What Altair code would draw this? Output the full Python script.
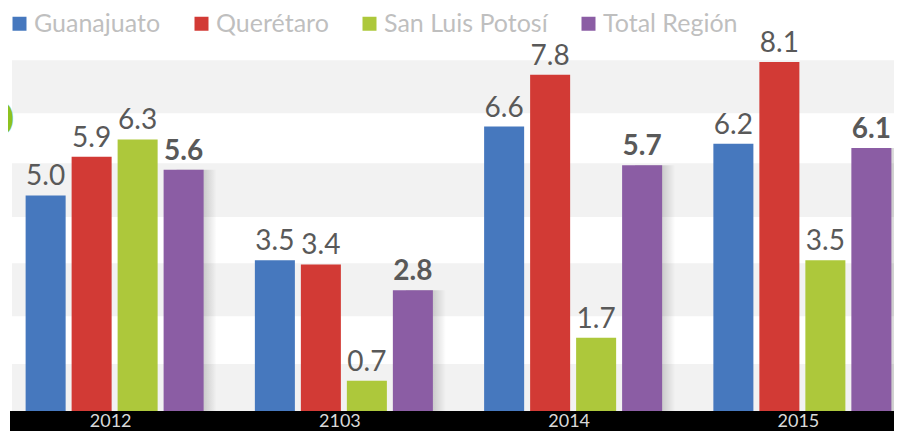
import altair as alt
import pandas as pd

# ---- data ----
years = ["2012", "2103", "2014", "2015"]
series = ["Guanajuato", "Querétaro", "San Luis Potosí", "Total Región"]
guanajuato = [5.0, 3.5, 6.6, 6.2]
queretaro = [5.9, 3.4, 7.8, 8.1]
san_luis = [6.3, 0.7, 1.7, 3.5]
total_region = [5.6, 2.8, 5.7, 6.1]
band_low = [0.0, 2.20, 4.50, 6.91]
band_high = [1.09, 3.43, 5.75, 8.14]
colors = ["#4678BE", "#D23A35", "#ADC83B", "#8B5DA4"]

rows = []
for s, vals in zip(series, [guanajuato, queretaro, san_luis, total_region]):
    for yr, v in zip(years, vals):
        rows.append({"year": yr, "series": s, "value": v, "label": f"{v:.1f}"})
df = pd.DataFrame(rows)
bands = pd.DataFrame({"lo": band_low, "hi": band_high})
one = pd.DataFrame({"k": [0]})
year_df = pd.DataFrame({"year": years})

W, H = 884, 403
BOTTOM = 20
FONT = "Lato"
STEP = 229.25

yscale = alt.Scale(domain=[0, 9.35], nice=False, zero=True)
xscale = alt.Scale(domain=years, range=[-10, 907], paddingInner=0, paddingOuter=0)
xoff = alt.Scale(type="band", domain=series, paddingInner=0.13,
                 paddingOuter=0.557, range=[0, STEP])
xoff_shadow = alt.Scale(type="band", domain=series, paddingInner=0.13,
                        paddingOuter=0.557, range=[13, STEP + 13])

X = alt.X("year:N", scale=xscale, axis=None, sort=years)
XO = alt.XOffset("series:N", scale=xoff, sort=series)
Y = alt.Y("value:Q", scale=yscale, axis=None)

bg = alt.Chart(bands).mark_rect(color="#F2F2F2").encode(
    x=alt.value(2), x2=alt.value(W),
    y=alt.Y("lo:Q", scale=yscale, axis=None), y2="hi:Q",
)

black = alt.Chart(one).mark_rect(color="#000000").encode(
    x=alt.value(0), x2=alt.value(W), y=alt.value(H), y2=alt.value(H + BOTTOM)
)

shadow_grad = alt.LinearGradient(
    gradient="linear",
    stops=[
        alt.GradientStop(color="rgba(0,0,0,0.20)", offset=0),
        alt.GradientStop(color="rgba(0,0,0,0.16)", offset=0.68),
        alt.GradientStop(color="rgba(0,0,0,0)", offset=1),
    ],
    x1=0, x2=1, y1=0, y2=0,
)
shadow = alt.Chart(df).transform_filter(
    alt.datum.series == "Total Región"
).mark_bar(color=shadow_grad).encode(
    x=X, xOffset=alt.XOffset("series:N", scale=xoff_shadow, sort=series), y=Y
)

bars = alt.Chart(df).mark_bar().encode(
    x=X, xOffset=XO, y=Y,
    color=alt.Color(
        "series:N",
        scale=alt.Scale(domain=series, range=colors),
        legend=alt.Legend(
            orient="none", legendX=-3, legendY=3, direction="horizontal",
            title=None, symbolType="square", symbolSize=196,
            symbolStrokeWidth=0, labelFontSize=25, labelFont=FONT,
            labelColor="#BFBFBF", columnPadding=28, labelOffset=2,
            labelLimit=400,
        ),
    ),
)

labels = alt.Chart(df).transform_filter(
    alt.datum.series != "Total Región"
).mark_text(
    baseline="bottom", dy=-4, fontSize=28, font=FONT, color="#595959"
).encode(x=X, xOffset=XO, y=Y, text="label:N")

labels_total = alt.Chart(df).transform_filter(
    alt.datum.series == "Total Región"
).mark_text(
    baseline="bottom", dy=-4, fontSize=28, font=FONT, color="#595959",
    fontWeight="bold",
).encode(x=X, xOffset=XO, y=Y, text="label:N")

main = alt.layer(bars, labels, labels_total)

year_labels = alt.Chart(year_df).mark_text(
    color="#D9D9D9", fontSize=18, font=FONT, dx=-4, baseline="middle"
).encode(x=X, y=alt.value(H + BOTTOM / 2 + 1), text="year:N")

green_mark = alt.Chart(one).mark_text(
    text="0", color="#8DC21F", fontSize=46, fontWeight="bold", font=FONT,
    align="right", baseline="middle",
).encode(x=alt.value(4), y=alt.value(113))

chart = alt.layer(
    bg, black, shadow, main, year_labels, green_mark
).resolve_scale(xOffset="independent").properties(
    width=W, height=H,
    autosize=alt.AutoSizeParams(type="none"),
    padding={"left": 2, "top": 0, "right": 0, "bottom": BOTTOM},
    background="white",
).configure_view(stroke=None)

chart.save("out.html", embed_options={"renderer": "svg", "actions": False})
